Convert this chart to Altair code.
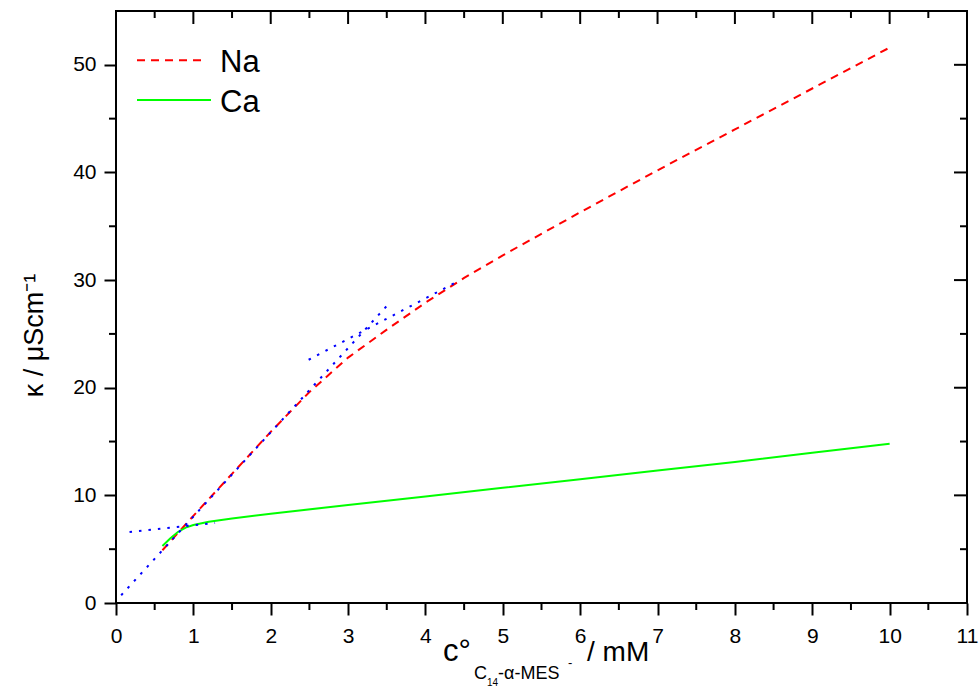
import altair as alt
import pandas as pd

# ---------------- data ----------------
na_x = [0.6, 0.8, 1.0, 1.5, 2.0, 2.5, 3.0, 3.5, 4.0, 4.5, 5.0, 6.0, 7.0, 8.0, 9.0, 10.0]
na_y = [4.9, 6.5, 8.1, 12.0, 15.9, 19.6, 22.8, 25.4, 27.9, 30.2, 32.3, 36.3, 40.2, 44.0, 47.8, 51.6]

ca_x = [0.6, 0.7, 0.8, 0.9, 1.0, 1.2, 1.5, 2.0, 3.0, 4.0, 5.0, 6.0, 7.0, 8.0, 9.0, 10.0]
ca_y = [5.3, 6.0, 6.6, 7.0, 7.25, 7.55, 7.85, 8.3, 9.1, 9.9, 10.7, 11.5, 12.3, 13.1, 13.95, 14.8]

fit_id = ["a", "a", "b", "b", "c", "c"]
fit_x = [0.067, 3.5, 0.175, 1.28, 2.49, 4.41]
fit_y = [0.72, 27.6, 6.6, 7.44, 22.6, 29.85]

x_major = [0, 1, 2, 3, 4, 5, 6, 7, 8, 9, 10, 11]
x_minor = [0.5, 1.5, 2.5, 3.5, 4.5, 5.5, 6.5, 7.5, 8.5, 9.5, 10.5]
y_major = [0, 10, 20, 30, 40, 50]
y_minor = [5, 15, 25, 35, 45]

legend_labels = ["Na", "Ca"]

# ---------------- layout ----------------
W, H = 851, 592
FONT = "Liberation Sans"

na_df = pd.DataFrame({"x": na_x, "y": na_y})
ca_df = pd.DataFrame({"x": ca_x, "y": ca_y})
fit_df = pd.DataFrame({"fit": fit_id, "x": fit_x, "y": fit_y})

x_scale = alt.Scale(domain=[0, 11], nice=False, zero=False)
y_scale = alt.Scale(domain=[0, 55], nice=False, zero=False)

x_axis = alt.Axis(values=x_major, format="d", tickSize=12, tickWidth=2, tickColor="black",
                  domain=False, grid=False, labelFontSize=21, labelFont=FONT,
                  labelColor="black", labelPadding=10, labelFlush=False,
                  labelOverlap=False, title=None)
y_axis = alt.Axis(values=y_major, format="d", tickSize=12, tickWidth=2, tickColor="black",
                  domain=False, grid=False, labelFontSize=21, labelFont=FONT,
                  labelColor="black", labelPadding=8, labelFlush=False,
                  labelOverlap=False,
                  title="κ / μScm⁻¹", titleFontSize=27, titleFont=FONT,
                  titleFontWeight="normal", titleColor="black",
                  titleAngle=270, titleX=-82, titleY=324,
                  titleAlign="center", titleBaseline="middle")

x_enc = alt.X("x:Q", scale=x_scale, axis=x_axis)
y_enc = alt.Y("y:Q", scale=y_scale, axis=y_axis)

na_line = alt.Chart(na_df).mark_line(color="#ff0000", strokeWidth=2,
                                     strokeDash=[8, 6]).encode(x=x_enc, y=y_enc)
ca_line = alt.Chart(ca_df).mark_line(color="#00ff00", strokeWidth=2).encode(x=x_enc, y=y_enc)
fit_lines = alt.Chart(fit_df).mark_line(color="#0000ff", strokeWidth=2,
                                        strokeDash=[2.5, 7]).encode(
    x=x_enc, y=y_enc, detail="fit:N")

# ticks: minor + mirrored (inward) on top/right
xmaj_df = pd.DataFrame({"x": x_major})
xmin_df = pd.DataFrame({"x": x_minor})
ymaj_df = pd.DataFrame({"y": y_major})
ymin_df = pd.DataFrame({"y": y_minor})

rule = dict(color="black", strokeWidth=2)
bottom_minor = alt.Chart(xmin_df).mark_rule(**rule).encode(x=x_enc, y=alt.value(H), y2=alt.value(H + 7))
top_major = alt.Chart(xmaj_df).mark_rule(**rule).encode(x=x_enc, y=alt.value(0), y2=alt.value(13))
top_minor = alt.Chart(xmin_df).mark_rule(**rule).encode(x=x_enc, y=alt.value(0), y2=alt.value(7))
left_minor = alt.Chart(ymin_df).mark_rule(**rule).encode(y=y_enc, x=alt.value(0), x2=alt.value(-7))
right_major = alt.Chart(ymaj_df).mark_rule(**rule).encode(y=y_enc, x=alt.value(W), x2=alt.value(W - 13))
right_minor = alt.Chart(ymin_df).mark_rule(**rule).encode(y=y_enc, x=alt.value(W), x2=alt.value(W - 7))

# legend
leg_na = pd.DataFrame({"label": [legend_labels[0]]})
leg_ca = pd.DataFrame({"label": [legend_labels[1]]})
leg_na_line = alt.Chart(leg_na).mark_rule(color="#ff0000", strokeWidth=2, strokeDash=[8, 6]).encode(
    x=alt.value(21), x2=alt.value(91), y=alt.value(49.3))
leg_ca_line = alt.Chart(leg_ca).mark_rule(color="#00ff00", strokeWidth=2).encode(
    x=alt.value(21), x2=alt.value(95), y=alt.value(89))
leg_na_text = alt.Chart(leg_na).mark_text(align="left", baseline="alphabetic", fontSize=31,
                                          font=FONT, color="black").encode(
    x=alt.value(104), y=alt.value(60.7), text="label:N")
leg_ca_text = alt.Chart(leg_ca).mark_text(align="left", baseline="alphabetic", fontSize=31,
                                          font=FONT, color="black").encode(
    x=alt.value(104), y=alt.value(100.7), text="label:N")

# x-axis title with sub/superscripts
title_parts = ["c°", "C", "14", "-α-MES", "-", "/ mM"]
title_df = pd.DataFrame({"t": title_parts})


def tpart(i, x, y, size):
    return alt.Chart(title_df.iloc[[i]]).mark_text(
        align="left", baseline="alphabetic", fontSize=size, font=FONT, color="black"
    ).encode(x=alt.value(x), y=alt.value(y), text="t:N")


xt = [
    tpart(0, 327, 650, 31),
    tpart(1, 358, 668, 18),
    tpart(2, 371, 675, 10),
    tpart(3, 382, 668, 18),
    tpart(4, 452, 656, 13),
    tpart(5, 471, 650, 28),
]

chart = alt.layer(
    na_line, ca_line, fit_lines,
    bottom_minor, top_major, top_minor, left_minor, right_major, right_minor,
    leg_na_line, leg_ca_line, leg_na_text, leg_ca_text,
    *xt
).properties(
    width=W, height=H,
    autosize=alt.AutoSizeParams(type="none"),
    padding={"left": 116, "top": 11, "right": 13, "bottom": 86},
    background="white",
).configure_view(stroke="black", strokeWidth=2)

chart.save("out.html", embed_options={"renderer": "svg", "actions": False})
